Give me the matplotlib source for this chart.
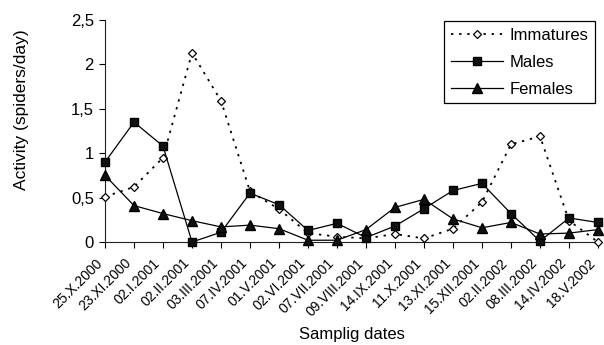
import matplotlib
matplotlib.use("Agg")
import matplotlib.pyplot as plt
from matplotlib.ticker import FuncFormatter

dates = ["25.X.2000", "23.XI.2000", "02.I.2001", "02.II.2001", "03.III.2001",
         "07.IV.2001", "01.V.2001", "02.VI.2001", "07.VII.2001", "09.VIII.2001",
         "14.IX.2001", "11.X.2001", "13.XI.2001", "15.XII.2001", "02.II.2002",
         "08.III.2002", "14.IV.2002", "18.V.2002"]
immatures = [0.51, 0.62, 0.95, 2.13, 1.59, 0.57, 0.37, 0.10, 0.06, 0.04,
             0.09, 0.04, 0.15, 0.45, 1.10, 1.19, 0.24, 0.00]
males = [0.90, 1.35, 1.08, 0.00, 0.11, 0.55, 0.42, 0.13, 0.21, 0.05,
         0.18, 0.375, 0.58, 0.66, 0.32, 0.01, 0.27, 0.22]
females = [0.75, 0.41, 0.32, 0.24, 0.17, 0.19, 0.15, 0.02, 0.02, 0.14,
           0.39, 0.48, 0.26, 0.16, 0.22, 0.09, 0.10, 0.14]

plt.rcParams['font.family'] = ['Liberation Sans', 'DejaVu Sans']

fig = plt.figure(figsize=(6.04, 3.45), dpi=100)
ax = fig.add_axes([105/604, 1-242/345, (598-105)/604, (242-20)/345])

x = list(range(len(dates)))
ax.plot(x, immatures, linestyle=(0, (1.3, 3.2)), color='black', lw=1.3,
        marker='D', markersize=4.5, markerfacecolor='white', markeredgecolor='black',
        markeredgewidth=0.9, label='Immatures', clip_on=False, zorder=3)
ax.plot(x, males, linestyle='-', color='black', lw=0.9,
        marker='s', markersize=5.8, markerfacecolor='#111111', markeredgecolor='black',
        label='Males', clip_on=False, zorder=4)
ax.plot(x, females, linestyle='-', color='black', lw=0.9,
        marker='^', markersize=6.5, markerfacecolor='#111111', markeredgecolor='black',
        label='Females', clip_on=False, zorder=4)

ax.set_xlim(0, len(dates) - 1)
ax.set_ylim(0, 2.5)
ax.set_yticks([0, 0.5, 1, 1.5, 2, 2.5])
ax.yaxis.set_major_formatter(FuncFormatter(lambda v, p: ('%g' % v).replace('.', ',')))
ax.set_xticks(x)
ax.set_xticklabels(dates, rotation=45, ha='right', va='top', rotation_mode='default', fontsize=10)
ax.tick_params(axis='x', length=4, width=0.8, pad=6, direction='out')
ax.tick_params(axis='y', length=4, width=0.8, labelsize=12, pad=4, direction='out')

for s in ['top', 'right']:
    ax.spines[s].set_visible(False)
for s in ['left', 'bottom']:
    ax.spines[s].set_linewidth(0.8)
    ax.spines[s].set_color('#222222')

ax.set_ylabel('Activity (spiders/day)', fontsize=12.5)
ax.yaxis.set_label_coords(-0.155, 0.595)
fig.text((105+598)/2/604, 1-339/345, 'Samplig dates', ha='center', va='baseline', fontsize=12)

leg = ax.legend(loc='upper right', bbox_to_anchor=(595/604, 1-21/345), bbox_transform=fig.transFigure,
                fontsize=12,
                frameon=True, fancybox=False, edgecolor='black', framealpha=1,
                handlelength=3.1, borderpad=0.4, labelspacing=0.72, handletextpad=0.4,
                borderaxespad=0.0)
leg.get_frame().set_linewidth(0.9)

fig.savefig('out.png', dpi=100)
